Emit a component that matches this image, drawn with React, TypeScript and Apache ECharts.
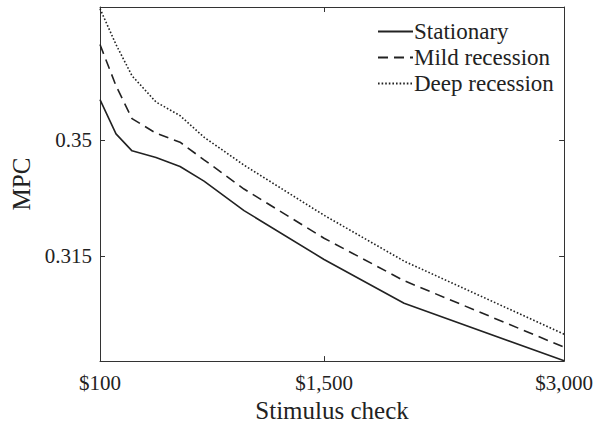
import React, { useEffect, useRef } from "react";
import * as echarts from "echarts";

const checks = [100, 200, 300, 450, 600, 750, 1000, 1500, 2000, 3000];
const stationary = [0.3621, 0.3518, 0.3467, 0.3447, 0.342, 0.3376, 0.3287, 0.314, 0.3008, 0.2835];
const mild = [0.3787, 0.3663, 0.3564, 0.352, 0.3493, 0.344, 0.3352, 0.3204, 0.3076, 0.2876];
const deep = [0.3895, 0.3787, 0.3693, 0.3614, 0.3573, 0.3508, 0.3424, 0.3273, 0.3135, 0.2915];
const xTicks = [100, 1500, 3000];
const yTicks = [0.315, 0.35];
const seriesNames = ["Stationary", "Mild recession", "Deep recession"];

const FONT = "'Liberation Serif', 'DejaVu Serif', serif";
const INK = "#222222";
const AXIS = "#333333";

export default function App() {
  const ref = useRef<HTMLDivElement>(null);
  useEffect(() => {
    document.body.style.margin = "0";
    const chart = echarts.init(ref.current!, null, { renderer: "svg" });
    const pairs = (ys: number[]) => checks.map((x, i) => [x, ys[i]]);
    const xBase = {
      type: "value",
      min: 100,
      max: 3000,
      axisLine: { show: true, lineStyle: { color: AXIS, width: 1 } },
      axisTick: { show: true, inside: true, length: 5, customValues: xTicks, lineStyle: { color: AXIS } },
      splitLine: { show: false },
    };
    const yBase = {
      type: "value",
      min: 0.2834,
      max: 0.39,
      axisLine: { show: true, lineStyle: { color: AXIS, width: 1 } },
      axisTick: { show: true, inside: true, length: 5, customValues: yTicks, lineStyle: { color: AXIS } },
      splitLine: { show: false },
    };
    const lineSeries = (name: string, ys: number[], type: any) => ({
      name,
      type: "line",
      data: pairs(ys),
      symbol: "none",
      showSymbol: false,
      lineStyle: { color: INK, width: 1.6, type },
      itemStyle: { color: INK },
    });
    chart.setOption({
      animation: false,
      grid: { left: 100, right: 30, top: 7, bottom: 59 },
      legend: {
        show: true,
        orient: "vertical",
        left: 377,
        top: 20,
        padding: 0,
        itemWidth: 35,
        itemHeight: 14,
        itemGap: 3,
        data: seriesNames,
        itemStyle: { opacity: 0 },
        textStyle: { fontFamily: FONT, fontSize: 23, color: INK, padding: [0, 0, 0, -4] },
      },
      xAxis: [
        {
          ...xBase,
          position: "bottom",
          name: "Stimulus check",
          nameLocation: "middle",
          nameGap: 27,
          nameTextStyle: { fontFamily: FONT, fontSize: 25, color: INK },
          axisLabel: {
            show: true,
            customValues: xTicks,
            margin: 11,
            fontFamily: FONT,
            fontSize: 21,
            color: INK,
            formatter: (v: number) => "$" + v.toLocaleString("en-US"),
          },
        },
        { ...xBase, position: "top", axisLabel: { show: false } },
      ],
      yAxis: [
        {
          ...yBase,
          position: "left",
          name: "MPC",
          nameLocation: "middle",
          nameGap: 64,
          nameTextStyle: { fontFamily: FONT, fontSize: 25, color: INK },
          axisLabel: {
            show: true,
            customValues: yTicks,
            margin: 8,
            fontFamily: FONT,
            fontSize: 21,
            color: INK,
            formatter: (v: number) => String(v),
          },
        },
        { ...yBase, position: "right", axisLabel: { show: false } },
      ],
      series: [
        lineSeries(seriesNames[0], stationary, "solid"),
        lineSeries(seriesNames[1], mild, [10, 6]),
        lineSeries(seriesNames[2], deep, [1.6, 2]),
      ],
    });
    return () => chart.dispose();
  }, []);
  return <div ref={ref} style={{ width: 596, height: 428 }} />;
}
